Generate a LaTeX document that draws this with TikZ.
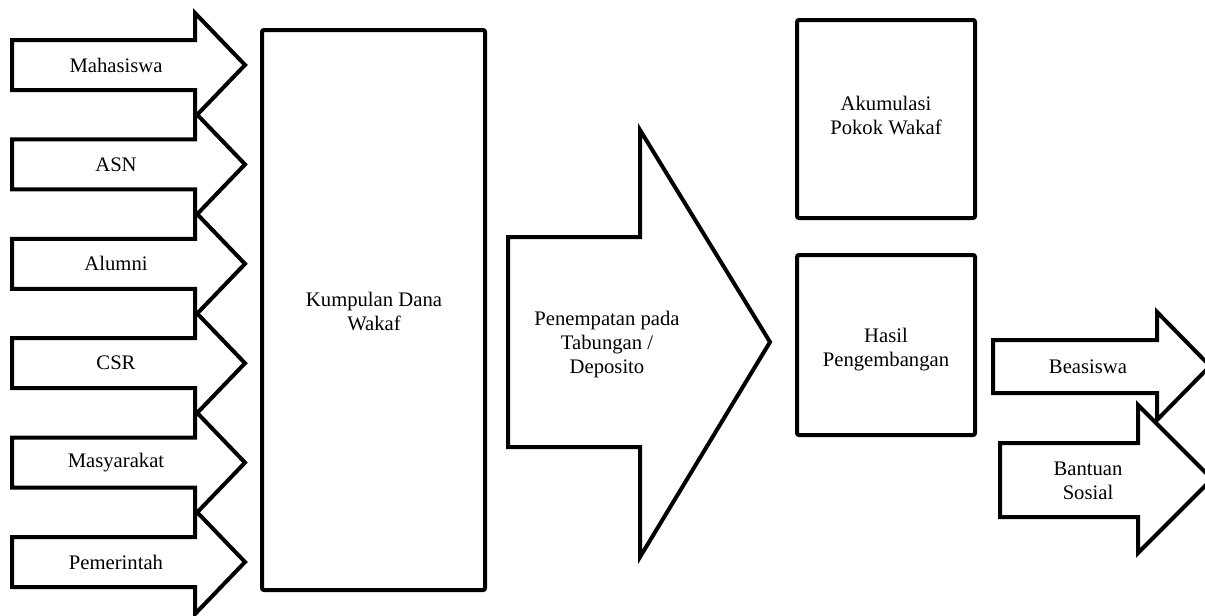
\documentclass[tikz,border=0pt]{standalone}
\usepackage{fontspec}
\setmainfont{Liberation Serif}
\usetikzlibrary{positioning}

\begin{document}
\begin{tikzpicture}[
    x=0.75pt, y=-0.75pt,
    mybox/.style={draw=black, line width=3pt, fill=white, rounded corners=1.5pt},
    myarrow/.style={draw=black, line width=3pt, fill=white, line join=miter},
    mylabel/.style={font=\fontsize{15.5}{18}\selectfont, align=center, inner sep=0pt}
]
\useasboundingbox (0,0) rectangle (1205,615);
\clip (0,0) rectangle (1205,615);

% Sumber dana wakaf
\foreach \c/\name/\txt in {65/mhs/Mahasiswa, 164.4/asn/ASN, 263.8/alm/Alumni,
    363.2/csr/CSR, 462.6/msy/Masyarakat, 562/pmr/Pemerintah} {
    \draw[myarrow] (12,\c-25) -- (195,\c-25) -- (195,\c-52) -- (245,\c)
        -- (195,\c+52) -- (195,\c+25) -- (12,\c+25) -- cycle;
    \node[mylabel] (\name) at (116,\c) {\txt};
}

% Kumpulan dana
\draw[mybox] (262,30) rectangle (485,590);
\node[mylabel] (kumpulan) at (374,311) {Kumpulan Dana\\Wakaf};

% Penempatan
\draw[myarrow] (508,237) -- (640,237) -- (640,130) -- (770,342)
    -- (640,557) -- (640,447) -- (508,447) -- cycle;
\node[mylabel] (penempatan) at (607,345) {Penempatan pada\\Tabungan /\\Deposito};

% Akumulasi dan hasil
\draw[mybox] (797,20) rectangle (975,218);
\node[mylabel] (akumulasi) at (886,115) {Akumulasi\\Pokok Wakaf};
\draw[mybox] (797,255) rectangle (975,435);
\node[mylabel] (hasil) at (886,350) {Hasil\\Pengembangan};

% Penyaluran
\draw[myarrow] (993,340) -- (1157,340) -- (1157,312) -- (1210,366)
    -- (1157,420) -- (1157,393) -- (993,393) -- cycle;
\node[mylabel] (beasiswa) at (1088,367) {Beasiswa};
\draw[myarrow] (1000,443) -- (1138,443) -- (1138,405) -- (1212,479)
    -- (1138,553) -- (1138,517) -- (1000,517) -- cycle;
\node[mylabel] (bantuan) at (1088,481) {Bantuan\\Sosial};

\end{tikzpicture}
\end{document}
